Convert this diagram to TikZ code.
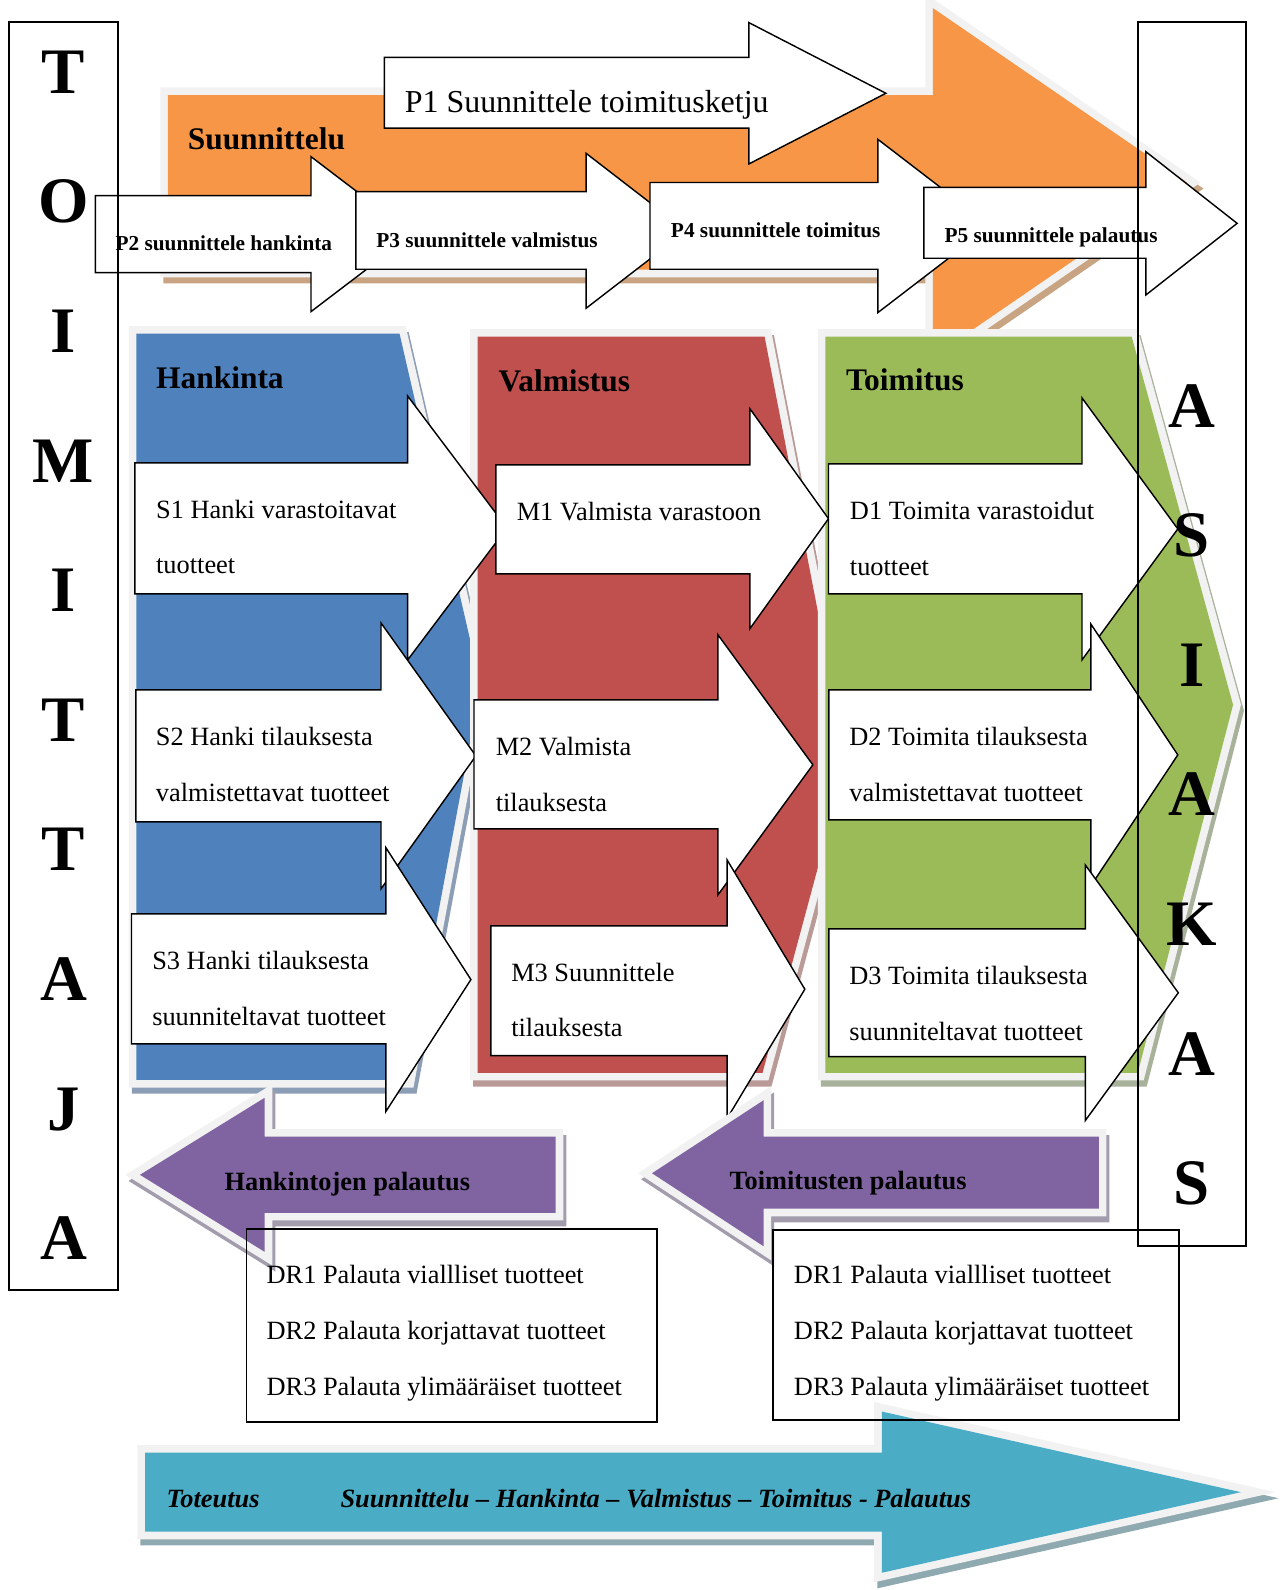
\documentclass[tikz,border=0pt]{standalone}
\usepackage{fontspec}
\setmainfont{Liberation Serif}
\definecolor{orangeF}{HTML}{F79646}
\definecolor{orangeS}{HTML}{C9A483}
\definecolor{blueF}{HTML}{4F81BD}
\definecolor{blueS}{HTML}{8C9DB6}
\definecolor{redF}{HTML}{C0504D}
\definecolor{redS}{HTML}{BA9A96}
\definecolor{greenF}{HTML}{9BBB59}
\definecolor{greenS}{HTML}{A8B29A}
\definecolor{purpleF}{HTML}{8064A2}
\definecolor{purpleS}{HTML}{A29CAD}
\definecolor{tealF}{HTML}{4BACC6}
\definecolor{tealS}{HTML}{8FA9B0}
\definecolor{rim}{HTML}{F2F2F2}
% block arrow: left, body top, body bottom, head x, head top, head bottom, tip x
\newcommand\blkArrow[7]{(#1,#2) -- (#4,#2) -- (#4,#5) -- (#7,{(#5+#6)/2}) -- (#4,#6) -- (#4,#3) -- (#1,#3) -- cycle}
% home plate: left, top, bottom, top-right x, bottom-right x, point x, point y
\newcommand\homePlate[7]{(#1,#2) -- (#4,#2) -- (#6,#7) -- (#5,#3) -- (#1,#3) -- cycle}
% soft shape with shadow and light rim
\newcommand\softShape[3]{%
  \filldraw[#2, line width=15, line join=miter, shift={(3,6)}] #3;
  \filldraw[rim, line width=15, line join=miter] #3;
  \fill[#1] #3;}
\tikzset{
  wbox/.style={draw=black, fill=white, line width=1.4, line join=miter},
  frame/.style={draw=black, line width=1.8},
  lbl/.style={anchor=base west, inner sep=0pt, font=\fontsize{26}{26}\selectfont},
  plbl/.style={anchor=base west, inner sep=0pt, font=\bfseries\fontsize{21}{21}\selectfont},
  hdr/.style={anchor=base west, inner sep=0pt, font=\bfseries\fontsize{31}{31}\selectfont},
  rlbl/.style={anchor=base west, inner sep=0pt, font=\bfseries\fontsize{26}{26}\selectfont},
  tlbl/.style={anchor=base west, inner sep=0pt, font=\bfseries\itshape\fontsize{26}{26}\selectfont},
  big/.style={anchor=base, inner sep=0pt, font=\bfseries\fontsize{64}{64}\selectfont},
}
\begin{document}
\begin{tikzpicture}[x=1pt,y=-1pt]
\useasboundingbox (0,0) rectangle (1267,1568);
\fill[white] (0,0) rectangle (1267,1568);

% planning band
\softShape{orangeF}{orangeS}{\blkArrow{165.6}{93.7}{266}{920}{8}{352}{1170.6}}
\node[hdr] (plan) at (185,147) {Suunnittelu};

% planning steps
\draw[wbox] \blkArrow{379}{56.5}{126.4}{738.5}{22.3}{161.7}{873.6};
\node[anchor=base west, inner sep=0pt, font=\fontsize{31.5}{31.5}\selectfont] (p1) at (399,111) {P1 Suunnittele toimitusketju};
\draw[wbox] \blkArrow{94}{193}{268.9}{306.7}{154.5}{307.3}{407};
\node[plbl] (p2) at (113.8,247) {P2 suunnittele hankinta};
\draw[wbox] \blkArrow{351}{189}{265.5}{578}{151.2}{304}{677};
\node[plbl] (p3) at (371,243.9) {P3 suunnittele valmistus};
\draw[wbox] \blkArrow{641}{180}{265.5}{865.7}{137.4}{308.3}{977};
\node[plbl] (p4) at (661.5,234) {P4 suunnittele toimitus};
\draw[wbox] \blkArrow{911}{184.7}{254.7}{1130}{149.6}{290.9}{1220};
\node[plbl] (p5) at (931.3,239.3) {P5 suunnittele palautus};

% process columns
\softShape{blueF}{blueS}{\homePlate{134.5}{329}{1065}{394}{401.5}{474}{676}}
\softShape{redF}{redS}{\homePlate{471}{332}{1058}{754}{752}{835}{750}}
\softShape{greenF}{greenS}{\homePlate{814}{332}{1058}{1116}{1122}{1216}{695}}
\node[hdr] (hank) at (153.8,383.6) {Hankinta};
\node[hdr] (valm) at (491.4,386.2) {Valmistus};
\node[hdr] (toim) at (834.2,385.2) {Toimitus};

% sourcing
\draw[wbox] \blkArrow{133}{456.5}{585.7}{402}{390.5}{650.8}{500};
\node[lbl] (s1a) at (153.8,511) {S1 Hanki varastoitavat};
\node[lbl] (s1b) at (153.8,566) {tuotteet};
\draw[wbox] \blkArrow{134}{680.4}{810.5}{375.7}{614.3}{876.6}{469.3};
\node[lbl] (s2a) at (153.6,735.2) {S2 Hanki tilauksesta};
\node[lbl] (s2b) at (153.6,790.5) {valmistettavat tuotteet};
\draw[wbox] \blkArrow{129.7}{901.2}{1029.4}{380.6}{836}{1096}{464.4};
\node[lbl] (s3a) at (150,955.8) {S3 Hanki tilauksesta};
\node[lbl] (s3b) at (150,1011.6) {suunniteltavat tuotteet};

% making
\draw[wbox] \blkArrow{489}{458.5}{566}{739.5}{403}{620}{817};
\node[lbl] (m1a) at (509.4,513.4) {M1 Valmista varastoon};
\draw[wbox] \blkArrow{467.4}{690.2}{817.4}{708}{626}{882.5}{801.6};
\node[lbl] (m2a) at (488.7,745) {M2 Valmista};
\node[lbl] (m2b) at (488.7,800.3) {tilauksesta};
\draw[wbox] \blkArrow{484}{913}{1041}{717}{848}{1103}{793.7};
\node[lbl] (m3a) at (504,968) {M3 Suunnittele};
\node[lbl] (m3b) at (504,1022.2) {tilauksesta};

% delivering
\draw[wbox] \blkArrow{817}{457.5}{585.7}{1067}{392.4}{650.8}{1161.5};
\node[lbl] (d1a) at (838,512.7) {D1 Toimita varastoidut};
\node[lbl] (d1b) at (838,568) {tuotteet};
\draw[wbox] \blkArrow{817.4}{680.4}{808.5}{1075.7}{615.3}{873.6}{1161.5};
\node[lbl] (d2a) at (837.4,735.2) {D2 Toimita tilauksesta};
\node[lbl] (d2b) at (837.4,790.5) {valmistettavat tuotteet};
\draw[wbox] \blkArrow{817.4}{916}{1042}{1070.3}{853}{1105}{1162};
\node[lbl] (d3a) at (837.4,971.2) {D3 Toimita tilauksesta};
\node[lbl] (d3b) at (837.4,1026.4) {suunniteltavat tuotteet};

% returns
\softShape{purpleF}{purpleS}{\blkArrow{548}{1121}{1196}{261}{1082.6}{1234.5}{138}}
\node[rlbl] (rh) at (221.3,1174.3) {Hankintojen palautus};
\softShape{purpleF}{purpleS}{\blkArrow{1083.6}{1121}{1192}{753}{1085}{1229}{643}}
\node[rlbl] (rt) at (719.2,1173.3) {Toimitusten palautus};

% execution band
\softShape{tealF}{tealS}{\blkArrow{143}{1432.6}{1510.5}{869.6}{1392}{1551}{1223.6}}
\node[tlbl] (tot) at (164.2,1486.6) {Toteutus};
\node[tlbl] (seq) at (335.6,1486.6) {Suunnittelu – Hankinta – Valmistus – Toimitus - Palautus};

% return lists
\draw[frame] (243,1212) rectangle (648,1402);
\node[lbl] (la) at (262.8,1266) {DR1 Palauta viallliset tuotteet};
\node[lbl] (lb) at (262.8,1321.3) {DR2 Palauta korjattavat tuotteet};
\node[lbl] (lc) at (262.8,1376.5) {DR3 Palauta ylimääräiset tuotteet};
\draw[frame] (762,1213) rectangle (1162.5,1400);
\node[lbl] (ra) at (782.8,1266) {DR1 Palauta viallliset tuotteet};
\node[lbl] (rb) at (782.8,1321.3) {DR2 Palauta korjattavat tuotteet};
\node[lbl] (rc) at (782.8,1376.5) {DR3 Palauta ylimääräiset tuotteet};

% supplier and customer
\draw[frame, line width=2] (9,21.5) rectangle (116.5,1272);
\draw[frame, line width=2] (1122,21.5) rectangle (1228.5,1228.5);
\foreach \ch [count=\i from 0] in {T,O,I,M,I,T,T,A,J,A}
  \node[big] (sup\i) at (62.7,{92+127.8*\i}) {\ch};
\foreach \ch [count=\i from 0] in {A,S,I,A,K,A,S}
  \node[big] (cus\i) at (1175.3,{421.3+127.8*\i}) {\ch};
\end{tikzpicture}
\end{document}
